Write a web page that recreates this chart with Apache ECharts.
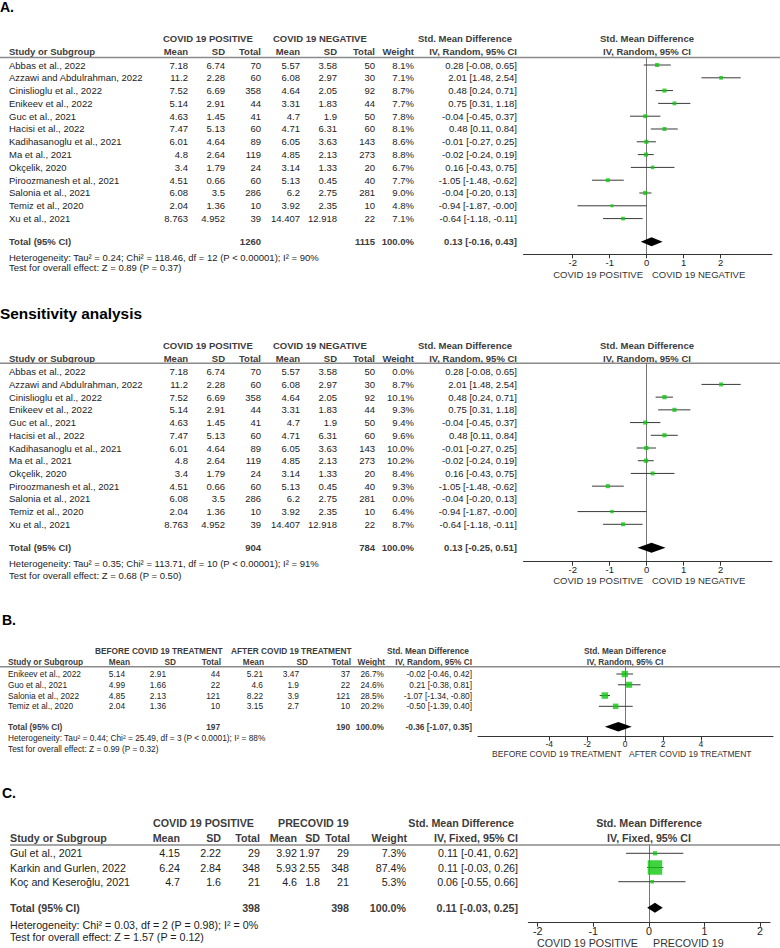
<!DOCTYPE html>
<html><head><meta charset="utf-8">
<script src="https://cdn.jsdelivr.net/npm/echarts@6/dist/echarts.min.js"></script>
<style>html,body{margin:0;padding:0;background:#fff}#c{width:780px;height:948px}</style>
</head><body><div id="c"></div>
<script>
// ---------------- DATA ----------------
// Panel A (and Sensitivity analysis)
const studiesA = ["Abbas et al., 2022","Azzawi and Abdulrahman, 2022","Cinislioglu et al., 2022","Enikeev et al., 2022","Guc et al., 2021","Hacisi et al., 2022","Kadihasanoglu et al., 2021","Ma et al., 2021","Okçelik, 2020","Piroozmanesh et al., 2021","Salonia et al., 2021","Temiz et al., 2020","Xu et al., 2021"];
const posMeanA  = [7.18, 11.2, 7.52, 5.14, 4.63, 7.47, 6.01, 4.8, 3.4, 4.51, 6.08, 2.04, 8.763];
const posSdA    = [6.74, 2.28, 6.69, 2.91, 1.45, 5.13, 4.64, 2.64, 1.79, 0.66, 3.5, 1.36, 4.952];
const posTotalA = [70, 60, 358, 44, 41, 60, 89, 119, 24, 60, 286, 10, 39];
const negMeanA  = [5.57, 6.08, 4.64, 3.31, 4.7, 4.71, 6.05, 4.85, 3.14, 5.13, 6.2, 3.92, 14.407];
const negSdA    = [3.58, 2.97, 2.05, 1.83, 1.9, 6.31, 3.63, 2.13, 1.33, 0.45, 2.75, 2.35, 12.918];
const negTotalA = [50, 30, 92, 44, 50, 60, 143, 273, 20, 40, 281, 10, 22];
const weightA   = [8.1, 7.1, 8.7, 7.7, 7.8, 8.1, 8.6, 8.8, 6.7, 7.7, 9.0, 4.8, 7.1];
const smdA      = [0.28, 2.01, 0.48, 0.75, -0.04, 0.48, -0.01, -0.02, 0.16, -1.05, -0.04, -0.94, -0.64];
const lowerA    = [-0.08, 1.48, 0.24, 0.31, -0.45, 0.11, -0.27, -0.24, -0.43, -1.48, -0.20, -1.87, -1.18];
const upperA    = [0.65, 2.54, 0.71, 1.18, 0.37, 0.84, 0.25, 0.19, 0.75, -0.62, 0.13, -0.004, -0.11];
const totalEffectA = [0.13, -0.16, 0.43];
const totalNA      = [1260, 1115];
const weightSens      = [0.0, 8.7, 10.1, 9.3, 9.4, 9.6, 10.0, 10.2, 8.4, 9.3, 0.0, 6.4, 8.7];
const totalEffectSens = [0.13, -0.25, 0.51];
const totalNSens      = [904, 784];
const ticksA = [-2, -1, 0, 1, 2];

// Panel B
const studiesB = ["Enikeev et al., 2022","Guo et al., 2021","Salonia et al., 2022","Temiz et al., 2020"];
const beforeMeanB  = [5.14, 4.99, 4.85, 2.04];
const beforeSdB    = [2.91, 1.66, 2.13, 1.36];
const beforeTotalB = [44, 22, 121, 10];
const afterMeanB   = [5.21, 4.6, 8.22, 3.15];
const afterSdB     = [3.47, 1.9, 3.9, 2.7];
const afterTotalB  = [37, 22, 121, 10];
const weightB = [26.7, 24.6, 28.5, 20.2];
const smdB    = [-0.02, 0.21, -1.07, -0.50];
const lowerB  = [-0.46, -0.38, -1.34, -1.39];
const upperB  = [0.42, 0.81, -0.80, 0.40];
const totalEffectB = [-0.36, -1.07, 0.35];
const totalNB      = [197, 190];
const ticksB = [-4, -2, 0, 2, 4];

// Panel C
const studiesC = ["Gul et al., 2021","Karkin and Gurlen, 2022","Koç and Keseroğlu, 2021"];
const posMeanC  = [4.15, 6.24, 4.7];
const posSdC    = [2.22, 2.84, 1.6];
const posTotalC = [29, 348, 21];
const preMeanC  = [3.92, 5.93, 4.6];
const preSdC    = [1.97, 2.55, 1.8];
const preTotalC = [29, 348, 21];
const weightC = [7.3, 87.4, 5.3];
const smdC    = [0.11, 0.11, 0.06];
const lowerC  = [-0.41, -0.03, -0.55];
const upperC  = [0.62, 0.26, 0.66];
const totalEffectC = [0.11, -0.03, 0.25];
const totalNC      = [398, 398];
const ticksC = [-2, -1, 0, 1, 2];

// ---------------- LAYOUT / STYLE ----------------
const FONT = '"Liberation Sans", Arial, sans-serif';
const HEAD = '#3c3c3c';
const TXT = '#1c1c1c';
const GREEN = '#10c810';

const panels = [
  { title:'A.', titleX:0, titleY:7, titleSize:14,
    studies:studiesA, cols:[posMeanA,posSdA,posTotalA,negMeanA,negSdA,negTotalA],
    weight:weightA, smd:smdA, lo:lowerA, hi:upperA, tot:totalEffectA, totN:totalNA,
    het:'Heterogeneity: Tau² = 0.24; Chi² = 118.46, df = 12 (P < 0.00001); I² = 90%',
    test:'Test for overall effect: Z = 0.89 (P = 0.37)',
    groups:['COVID 19 POSITIVE','COVID 19 NEGATIVE'], method:'IV, Random, 95% CI', ticks:ticksA,
    font:9.5, axisFont:9.5, studyX:9, colX:[188,225,261,300,337,375], wX:414, ciX:517, totNX:[261,375],
    gLeft:523.5, gWidth:248.5, gTop:57.5, gHeight:196.8, xMin:-3.33, xMax:3.386,
    yMin:-0.586, yMax:14.79, totalRow:13.8,
    headY1:38, headY2:51, hetY:257.7, testY:267.5, groupY:274, groupLRight:643, groupRLeft:652,
    head1:[['COVID 19 POSITIVE',163,'left'],['COVID 19 NEGATIVE',273,'left'],['Std. Mean Difference',512,'right']],
    head2:[['Study or Subgroup',9,'left'],['Mean',188,'right'],['SD',225,'right'],['Total',261,'right'],['Mean',300,'right'],['SD',337,'right'],['Total',375,'right'],['Weight',414,'right']],
    plotCenter:647, lineX0:0, boxK:1.4, dh:4.5 },
  { title:'Sensitivity analysis', titleX:0, titleY:313, titleSize:15.4,
    studies:studiesA, cols:[posMeanA,posSdA,posTotalA,negMeanA,negSdA,negTotalA],
    weight:weightSens, smd:smdA, lo:lowerA, hi:upperA, tot:totalEffectSens, totN:totalNSens,
    het:'Heterogeneity: Tau² = 0.35; Chi² = 113.71, df = 10 (P < 0.00001); I² = 91%',
    test:'Test for overall effect: Z = 0.68 (P = 0.50)',
    groups:['COVID 19 POSITIVE','COVID 19 NEGATIVE'], method:'IV, Random, 95% CI', ticks:ticksA,
    font:9.5, axisFont:9.5, studyX:9, colX:[188,225,261,300,337,375], wX:414, ciX:517, totNX:[261,375],
    gLeft:523.5, gWidth:248.5, gTop:363.3, gHeight:198.4, xMin:-3.33, xMax:3.386,
    yMin:-0.66, yMax:14.94, totalRow:13.84,
    headY1:345, headY2:358.3, hetY:563.3, testY:575.7, groupY:580, groupLRight:643, groupRLeft:652,
    head1:[['COVID 19 POSITIVE',163,'left'],['COVID 19 NEGATIVE',273,'left'],['Std. Mean Difference',512,'right']],
    head2:[['Study or Subgroup',9,'left'],['Mean',188,'right'],['SD',225,'right'],['Total',261,'right'],['Mean',300,'right'],['SD',337,'right'],['Total',375,'right'],['Weight',414,'right']],
    plotCenter:647, lineX0:0, boxK:1.35, dh:5 },
  { title:'B.', titleX:2, titleY:620, titleSize:14,
    studies:studiesB, cols:[beforeMeanB,beforeSdB,beforeTotalB,afterMeanB,afterSdB,afterTotalB],
    weight:weightB, smd:smdB, lo:lowerB, hi:upperB, tot:totalEffectB, totN:totalNB,
    het:'Heterogeneity: Tau² = 0.44; Chi² = 25.49, df = 3 (P < 0.0001); I² = 88%',
    test:'Test for overall effect: Z = 0.99 (P = 0.32)',
    groups:['BEFORE COVID 19 TREATMENT','AFTER COVID 19 TREATMENT'], method:'IV, Random, 95% CI', ticks:ticksB,
    font:8.3, axisFont:8.5, studyX:8, colX:[125,166,220,263,299,350], wX:384, ciX:472, totNX:[220,350],
    gLeft:478, gWidth:295, gTop:666.7, gHeight:70, xMin:-7.76, xMax:7.80,
    yMin:-0.678, yMax:5.82, totalRow:4.89,
    headY1:650.7, headY2:661.7, hetY:738.3, testY:749, groupY:754, groupLRight:621.7, groupRLeft:629,
    head1:[['BEFORE COVID 19 TREATMENT',95,'left'],['AFTER COVID 19 TREATMENT',231,'left'],['Std. Mean Difference',469,'right']],
    head2:[['Study or Subgroup',8,'left'],['Mean',130,'right'],['SD',176,'right'],['Total',221,'right'],['Mean',264,'right'],['SD',308,'right'],['Total',351,'right'],['Weight',385,'right']],
    plotCenter:625, lineX0:0, boxK:1.22, dh:4.8 },
  { title:'C.', titleX:2, titleY:793, titleSize:14,
    studies:studiesC, cols:[posMeanC,posSdC,posTotalC,preMeanC,preSdC,preTotalC],
    weight:weightC, smd:smdC, lo:lowerC, hi:upperC, tot:totalEffectC, totN:totalNC,
    het:'Heterogeneity: Chi² = 0.03, df = 2 (P = 0.98); I² = 0%',
    test:'Test for overall effect: Z = 1.57 (P = 0.12)',
    groups:['COVID 19 POSITIVE','PRECOVID 19'], method:'IV, Fixed, 95% CI', ticks:ticksC,
    font:10.7, axisFont:10.7, studyX:10, colX:[180,221,260,297,320,349], wX:406, ciX:518, totNX:[260,349],
    gLeft:528.3, gWidth:241.7, gTop:845, gHeight:77.7, xMin:-2.169, xMax:2.18,
    yMin:-0.585, yMax:4.887, totalRow:3.83,
    headY1:823.3, headY2:838.3, hetY:925, testY:936.7, groupY:943, groupLRight:638, groupRLeft:653,
    head1:[['COVID 19 POSITIVE',153,'left'],['PRECOVID 19',278,'left'],['Std. Mean Difference',514,'right']],
    head2:[['Study or Subgroup',10,'left'],['Mean',180,'right'],['SD',221,'right'],['Total',260,'right'],['Mean',297,'right'],['SD',320,'right'],['Total',350,'right'],['Weight',407,'right']],
    plotCenter:649, lineX0:10, boxK:1.55, dh:5 }
];

function f2(v){ return v.toFixed(2); }
function ciText(e,l,h){ return f2(e) + ' [' + f2(l) + ', ' + f2(h) + ']'; }
function textEl(text, x, y, align, size, bold, color){
  return { type:'text', x:x, y:y, silent:true,
    style:{ text:text, align:align, verticalAlign:'middle', fontFamily:FONT, fontSize:size,
            fontWeight: bold ? 'bold' : 'normal', fill: color || (bold ? HEAD : TXT) } };
}

const grids = [], xAxes = [], yAxes = [], series = [], graphics = [];

panels.forEach(function(p, gi){
  grids.push({ left:p.gLeft, width:p.gWidth, top:p.gTop, height:p.gHeight });
  xAxes.push({ gridIndex:gi, type:'value', min:p.xMin, max:p.xMax, position:'bottom',
    axisLine:{ onZero:false, lineStyle:{ color:'#333', width:1 } },
    axisTick:{ show:true, customValues:p.ticks, length:4, lineStyle:{ color:'#333' } },
    axisLabel:{ customValues:p.ticks, fontSize:p.axisFont, color:'#222', margin:3, fontFamily:FONT },
    splitLine:{ show:false } });
  yAxes.push({ gridIndex:gi, type:'value', min:p.yMin, max:p.yMax, inverse:true,
    axisLine:{ show:true, onZero:true, lineStyle:{ color:'#777', width:1 } },
    axisTick:{ show:false }, axisLabel:{ show:false }, splitLine:{ show:false } });

  const idx = p.studies.map(function(s,i){ return i; });
  const shown = idx.filter(function(i){ return p.weight[i] > 0; });

  // table rows
  series.push({ type:'custom', xAxisIndex:gi, yAxisIndex:gi, clip:false, silent:true, z:5,
    data: idx.map(function(i){ return [0, i]; }),
    renderItem: function(params, api){
      const i = params.dataIndex;
      const y = api.coord([0, api.value(1)])[1];
      const kids = [textEl(p.studies[i], p.studyX, y, 'left', p.font, false)];
      p.cols.forEach(function(arr, k){ kids.push(textEl(String(arr[i]), p.colX[k], y, 'right', p.font, false)); });
      kids.push(textEl(p.weight[i].toFixed(1) + '%', p.wX, y, 'right', p.font, false));
      kids.push(textEl(ciText(p.smd[i], p.lo[i], p.hi[i]), p.ciX, y, 'right', p.font, false));
      return { type:'group', children:kids };
    } });

  // total row
  series.push({ type:'custom', xAxisIndex:gi, yAxisIndex:gi, clip:false, silent:true, z:5,
    data: [[0, p.totalRow]],
    renderItem: function(params, api){
      const y = api.coord([0, api.value(1)])[1];
      return { type:'group', children:[
        textEl('Total (95% CI)', p.studyX, y, 'left', p.font, true),
        textEl(String(p.totN[0]), p.totNX[0], y, 'right', p.font, true),
        textEl(String(p.totN[1]), p.totNX[1], y, 'right', p.font, true),
        textEl('100.0%', p.wX, y, 'right', p.font, true),
        textEl(ciText(p.tot[0], p.tot[1], p.tot[2]), p.ciX, y, 'right', p.font, true)
      ] };
    } });

  // CI lines
  series.push({ type:'custom', xAxisIndex:gi, yAxisIndex:gi, clip:false, silent:true, z:2,
    data: shown.map(function(i){ return [p.lo[i], p.hi[i], i]; }),
    encode:{ x:[0,1], y:2 },
    renderItem: function(params, api){
      const a = api.coord([api.value(0), api.value(2)]);
      const b = api.coord([api.value(1), api.value(2)]);
      return { type:'line', shape:{ x1:a[0], y1:a[1], x2:b[0], y2:b[1] }, style:{ stroke:'#3a3a3a', lineWidth:1 } };
    } });

  // study boxes
  series.push({ type:'scatter', xAxisIndex:gi, yAxisIndex:gi, silent:true, z:3, symbol:'rect',
    data: shown.map(function(i){ return [p.smd[i], i, p.weight[i]]; }),
    symbolSize: function(v){ return p.boxK * Math.sqrt(v[2]); },
    itemStyle:{ color:GREEN } });

  // pooled diamond
  series.push({ type:'custom', xAxisIndex:gi, yAxisIndex:gi, clip:false, silent:true, z:4,
    data: [[p.tot[0], p.tot[1], p.tot[2], p.totalRow]],
    encode:{ x:[0,1,2], y:3 },
    renderItem: function(params, api){
      const yv = api.value(3);
      const c = api.coord([api.value(0), yv]);
      const l = api.coord([api.value(1), yv]);
      const r = api.coord([api.value(2), yv]);
      return { type:'polygon', shape:{ points:[[l[0],c[1]],[c[0],c[1]-p.dh],[r[0],c[1]],[c[0],c[1]+p.dh]] },
               style:{ fill:'#000' } };
    } });

  // static texts
  graphics.push(textEl(p.title, p.titleX, p.titleY, 'left', p.titleSize, true, '#000'));
  p.head1.forEach(function(h){ graphics.push(textEl(h[0], h[1], p.headY1, h[2], p.font, true)); });
  p.head2.forEach(function(h){ graphics.push(textEl(h[0], h[1], p.headY2, h[2], p.font, true)); });
  graphics.push(textEl(p.method, p.ciX, p.headY2, 'right', p.font, true));
  graphics.push(textEl('Std. Mean Difference', p.plotCenter, p.headY1, 'center', p.font, true));
  graphics.push(textEl(p.method, p.plotCenter, p.headY2, 'center', p.font, true));
  graphics.push(textEl(p.het, p.studyX, p.hetY, 'left', p.font, false));
  graphics.push(textEl(p.test, p.studyX, p.testY, 'left', p.font, false));
  graphics.push(textEl(p.groups[0], p.groupLRight, p.groupY, 'right', p.axisFont, false, '#333'));
  graphics.push(textEl(p.groups[1], p.groupRLeft, p.groupY, 'left', p.axisFont, false, '#333'));
  graphics.push({ type:'line', silent:true, shape:{ x1:p.lineX0, y1:p.gTop, x2:780, y2:p.gTop },
                  style:{ stroke:'#8a8a8a', lineWidth:1.5 } });
});

const chart = echarts.init(document.getElementById('c'), null, { renderer:'svg', width:780, height:948 });
chart.setOption({
  animation:false,
  backgroundColor:'#fff',
  grid:grids, xAxis:xAxes, yAxis:yAxes, series:series,
  graphic:graphics
});
</script>
</body></html>
